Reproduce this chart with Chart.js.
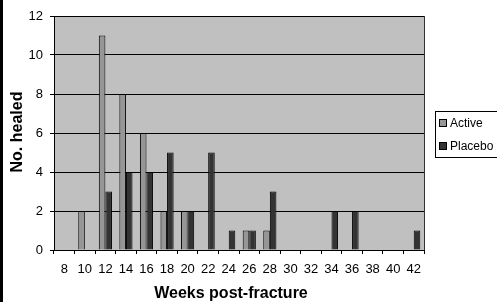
<!DOCTYPE html>
<html>
<head>
<meta charset="utf-8">
<script src="https://cdn.jsdelivr.net/npm/chart.js@4/dist/chart.umd.min.js"></script>
<style>
  html, body { margin: 0; padding: 0; background: #fff; }
  #wrap { width: 497px; height: 302px; position: relative; }
</style>
</head>
<body>
<div id="wrap"><canvas id="chart" width="497" height="302"></canvas></div>
<script>
const FONT = '"Liberation Sans", Arial, sans-serif';

/* ---------- Data ---------- */
const weeks = ['8', '10', '12', '14', '16', '18', '20', '22', '24', '26', '28', '30', '32', '34', '36', '38', '40', '42'];
const activeHealed = [0, 2, 11, 8, 6, 2, 2, 0, 0, 1, 1, 0, 0, 0, 0, 0, 0, 0];
const placeboHealed = [0, 0, 3, 4, 4, 5, 2, 5, 1, 1, 3, 0, 0, 2, 2, 0, 0, 1];
const seriesNames = ['Active', 'Placebo'];
const seriesColors = ['#969696', '#333333'];
const yMax = 12;
const yStep = 2;
const xTitle = 'Weeks post-fracture';
const yTitle = 'No. healed';

/* ---------- Plugins ---------- */
const plotBg = {
    id: 'plotBg',
    beforeDraw(chart) {
        const { ctx, chartArea: a } = chart;
        ctx.save();
        ctx.fillStyle = '#000';
        ctx.fillRect(0, 0, 3, chart.height);
        ctx.fillStyle = '#c0c0c0';
        ctx.fillRect(a.left, a.top, a.right - a.left, a.bottom - a.top);
        ctx.restore();
    },
    afterDatasetsDraw(chart) {
        const { ctx, chartArea: a } = chart;
        ctx.save();
        ctx.strokeStyle = '#333';
        ctx.lineWidth = 1;
        ctx.beginPath();
        ctx.moveTo(Math.round(a.right) + 0.5, a.top);
        ctx.lineTo(Math.round(a.right) + 0.5, a.bottom);
        ctx.stroke();
        ctx.restore();
    }
};

const titlesAndLegend = {
    id: 'titlesAndLegend',
    afterDraw(chart) {
        const ctx = chart.ctx;
        ctx.save();
        ctx.fillStyle = '#000';
        ctx.font = 'bold 16px ' + FONT;
        ctx.textAlign = 'center';
        ctx.textBaseline = 'alphabetic';
        ctx.fillText(xTitle, 231, 298);

        ctx.translate(21.5, 132);
        ctx.rotate(-Math.PI / 2);
        ctx.fillText(yTitle, 0, 0);
        ctx.restore();

        // legend box
        ctx.save();
        ctx.fillStyle = '#fff';
        ctx.fillRect(435, 111, 70, 47);
        ctx.strokeStyle = '#000';
        ctx.lineWidth = 1;
        ctx.strokeRect(435.5, 111.5, 70, 46);
        ctx.font = '12px ' + FONT;
        ctx.textAlign = 'left';
        ctx.textBaseline = 'middle';
        chart.data.datasets.forEach((ds, i) => {
            const y = 119 + i * 23;
            ctx.fillStyle = ds.backgroundColor;
            ctx.fillRect(439, y, 8, 8);
            ctx.strokeStyle = '#000';
            ctx.strokeRect(439.5, y + 0.5, 7, 7);
            ctx.fillStyle = '#000';
            ctx.fillText(ds.label, 450, y + 4.5);
        });
        ctx.restore();
    }
};

/* ---------- Chart ---------- */
new Chart(document.getElementById('chart').getContext('2d'), {
    type: 'bar',
    data: {
        labels: weeks,
        datasets: [
            { label: seriesNames[0], data: activeHealed, backgroundColor: seriesColors[0], borderColor: '#000', borderWidth: 1 },
            { label: seriesNames[1], data: placeboHealed, backgroundColor: seriesColors[1], borderColor: '#000', borderWidth: 1 }
        ]
    },
    options: {
        responsive: false,
        animation: false,
        events: [],
        categoryPercentage: 0.64,
        barPercentage: 1,
        layout: { padding: { top: 16, right: 73, left: 0, bottom: 0 } },
        plugins: { legend: { display: false }, tooltip: { enabled: false } },
        scales: {
            x: {
                grid: { display: true, drawOnChartArea: false, drawTicks: true, tickLength: 4, color: '#000', offset: true },
                border: { display: true, color: '#000', width: 1 },
                ticks: { color: '#000', font: { family: FONT, size: 13 }, padding: 8, maxRotation: 0, autoSkip: false },
                afterFit(scale) { scale.height = 52; }
            },
            y: {
                min: 0,
                max: yMax,
                grid: { color: '#000', lineWidth: 1, drawTicks: true, tickLength: 4 },
                border: { display: true, color: '#000', width: 1 },
                ticks: { stepSize: yStep, color: '#000', font: { family: FONT, size: 13 }, padding: 7 },
                afterFit(scale) { scale.width = 54; }
            }
        }
    },
    plugins: [plotBg, titlesAndLegend]
});
</script>
</body>
</html>
